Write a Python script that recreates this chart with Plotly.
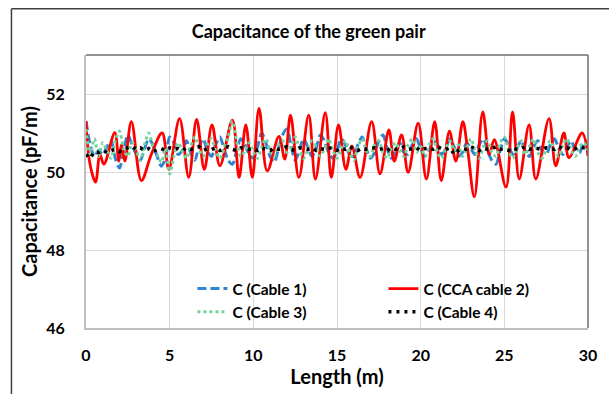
import plotly.graph_objects as go

# Sample positions along the cable (m) for the measured series
lengths = [round(i * 0.25, 2) for i in range(121)]

cable1 = [
    51.30, 50.70, 50.40, 50.55, 50.45, 50.65, 50.80, 50.35, 50.10, 50.55,
    50.95, 50.70, 50.45, 50.30, 50.60, 50.85, 50.70, 50.40, 50.15, 50.35,
    50.90, 50.75, 50.45, 50.55, 50.80, 50.50, 50.30, 50.65, 50.85, 50.55,
    50.40, 50.70, 50.90, 50.60, 50.30, 50.20, 50.55, 50.85, 50.70, 50.45,
    50.35, 50.65, 51.00, 50.75, 50.40, 50.25, 50.60, 50.95, 51.10, 50.70,
    50.30, 50.55, 50.85, 50.65, 50.40, 50.60, 50.95, 50.80, 50.50, 50.35,
    50.55, 50.85, 50.70, 50.45, 50.40, 50.70, 50.90, 50.60, 50.35, 50.50,
    50.80, 50.95, 50.60, 50.35, 50.55, 50.75, 50.50, 50.45, 50.70, 50.85,
    50.60, 50.40, 50.55, 50.80, 50.70, 50.45, 50.60, 50.85, 50.65, 50.40,
    50.50, 50.75, 50.60, 50.45, 50.70, 50.85, 50.55, 50.30, 50.20, 50.55,
    50.85, 50.70, 50.45, 50.60, 50.80, 50.55, 50.40, 50.65, 50.80, 50.55,
    50.45, 50.70, 50.85, 50.60, 50.45, 50.65, 50.80, 50.55, 50.50, 50.75,
    50.65,
]

cable3 = [
    51.10, 50.45, 50.85, 50.40, 50.75, 50.55, 50.35, 50.80, 51.05, 50.60,
    50.40, 50.75, 50.55, 50.30, 50.70, 51.00, 50.65, 50.45, 50.25, 50.60,
    49.95, 50.40, 50.75, 50.55, 50.35, 50.65, 50.90, 50.60, 50.40, 50.70,
    50.85, 50.55, 50.35, 50.60, 50.90, 51.30, 50.80, 50.40, 50.55, 50.75,
    50.50, 50.35, 50.65, 50.85, 50.55, 50.40, 50.70, 50.80, 50.50, 50.65,
    50.90, 50.60, 50.35, 50.55, 50.80, 50.65, 50.40, 50.60, 50.85, 50.55,
    50.35, 50.60, 50.80, 50.50, 50.30, 50.65, 50.85, 50.55, 50.40, 50.70,
    50.80, 50.50, 50.35, 50.60, 50.75, 50.55, 50.40, 50.70, 50.85, 50.50,
    50.65, 50.40, 50.70, 50.85, 50.50, 50.35, 50.60, 50.80, 50.55, 50.70,
    50.40, 50.60, 50.85, 50.55, 50.35, 50.65, 50.80, 50.50, 50.40, 50.75,
    50.90, 50.55, 50.35, 50.60, 50.80, 50.45, 50.65, 50.85, 50.50, 50.35,
    50.60, 50.80, 50.55, 50.40, 50.70, 50.85, 50.55, 50.40, 50.65, 50.75,
    50.55,
]

cable4 = [
    50.45, 50.35, 50.52, 50.50, 50.55, 50.50, 50.55, 50.58, 50.52, 50.60,
    50.62, 50.65, 50.58, 50.62, 50.55, 50.60, 50.52, 50.58, 50.60, 50.55,
    50.62, 50.58, 50.60, 50.55, 50.62, 50.58, 50.60, 50.65, 50.55, 50.60,
    50.58, 50.62, 50.55, 50.60, 50.65, 50.58, 50.55, 50.62, 50.60, 50.58,
    50.60, 50.55, 50.62, 50.58, 50.55, 50.62, 50.58, 50.60, 50.65, 50.58,
    50.55, 50.62, 50.60, 50.58, 50.62, 50.55, 50.60, 50.58, 50.62, 50.60,
    50.55, 50.62, 50.58, 50.65, 50.60, 50.55, 50.62, 50.58, 50.60, 50.62,
    50.58, 50.60, 50.55, 50.62, 50.58, 50.60, 50.65, 50.58, 50.60, 50.62,
    50.55, 50.60, 50.62, 50.58, 50.65, 50.60, 50.58, 50.62, 50.45, 50.55,
    50.60, 50.58, 50.65, 50.60, 50.55, 50.62, 50.58, 50.60, 50.65, 50.58,
    50.60, 50.55, 50.62, 50.58, 50.60, 50.65, 50.58, 50.62, 50.60, 50.58,
    50.62, 50.60, 50.58, 50.65, 50.60, 50.62, 50.58, 50.60, 50.65, 50.62,
    50.62,
]

# CCA cable 2: turning points of the smoothed curve
cca_lengths = [
    0.0, 0.24, 0.57, 0.83, 1.07, 1.72, 1.96, 2.12, 2.32, 2.71,
    3.31, 3.9, 4.55, 4.95, 5.59, 6.14, 6.61, 7.07, 7.53, 8.0,
    8.75, 9.15, 9.55, 9.94, 10.34, 10.83, 11.53, 11.88, 12.22, 12.72,
    13.31, 13.71, 14.3, 14.66, 15.09, 15.53, 15.89, 16.38, 17.07, 17.57,
    18.1, 18.42, 18.86, 19.25, 19.85, 20.34, 20.84, 21.23, 21.72, 22.1,
    22.52, 22.8, 23.21, 23.71, 24.1, 24.4, 25.1, 25.49, 25.89, 26.48,
    26.88, 27.67, 28.07, 28.56, 28.86, 29.65, 30.0,
]
cca_cable2 = [
    51.30, 50.20, 49.74, 50.45, 50.20, 51.01, 50.28, 50.70, 50.28, 51.29,
    49.78, 50.45, 51.00, 50.07, 51.37, 49.86, 51.35, 50.07, 51.21, 50.16,
    51.33, 49.86, 51.21, 49.86, 51.63, 50.03, 50.91, 50.33, 51.46, 49.86,
    51.46, 49.82, 51.52, 49.86, 51.21, 50.07, 50.66, 49.86, 51.29, 49.95,
    51.08, 50.28, 50.95, 49.99, 51.25, 49.82, 51.29, 49.78, 51.05, 50.28,
    51.29, 50.60, 49.36, 51.54, 50.45, 50.83, 49.61, 51.54, 49.82, 51.21,
    49.82, 51.37, 50.16, 51.00, 50.37, 51.00, 50.41,
]

x_ticks = [0, 5, 10, 15, 20, 25, 30]
y_ticks = [46, 48, 50, 52]

FONT = "Lato"

fig = go.Figure()
fig.add_trace(go.Scatter(
    x=lengths, y=cable1, mode="lines", name="C (Cable 1)",
    line=dict(color="#2F86CF", width=3, dash="9px,4px", shape="spline", smoothing=0.8),
))
fig.add_trace(go.Scatter(
    x=cca_lengths, y=cca_cable2, mode="lines", name="C (CCA cable 2)",
    line=dict(color="#FF0000", width=2.8, shape="spline", smoothing=1.0),
))
fig.add_trace(go.Scatter(
    x=lengths, y=cable3, mode="lines", name="C (Cable 3)",
    line=dict(color="#74D39C", width=3, dash="3px,3px", shape="spline", smoothing=0.8),
))
fig.add_trace(go.Scatter(
    x=lengths, y=cable4, mode="lines", name="C (Cable 4)",
    line=dict(color="#000000", width=3.5, dash="3px,5px"),
))

# plot-area frame: darker top and right edges
fig.add_shape(type="line", xref="paper", yref="paper", x0=0, x1=1, y0=1, y1=1,
              line=dict(color="#6E6E6E", width=1.5))
fig.add_shape(type="line", xref="paper", yref="paper", x0=1, x1=1, y0=0, y1=1,
              line=dict(color="#6E6E6E", width=1.5))
# outer chart frame (left and top edges)
fig.add_shape(type="line", xref="paper", yref="paper", x0=-0.1485, x1=-0.1485,
              y0=-0.3, y1=1.1697, line=dict(color="#404040", width=1.5))
fig.add_shape(type="line", xref="paper", yref="paper", x0=-0.1485, x1=1.1,
              y0=1.1697, y1=1.1697, line=dict(color="#404040", width=1.5))

fig.update_layout(
    width=609, height=394,
    margin=dict(l=86, r=18, t=55, b=62),
    paper_bgcolor="white", plot_bgcolor="white",
    font=dict(family=FONT, color="#000000"),
    title=dict(text="Capacitance of the green pair", x=0.4436, xref="paper",
               y=0.92, yref="container", xanchor="center", yanchor="middle",
               font=dict(family=FONT, size=18, weight="bold", color="#000000")),
    showlegend=True,
    legend=dict(orientation="h", x=0.212, y=0.205, xanchor="left", yanchor="top",
                entrywidth=146, entrywidthmode="pixels",
                font=dict(family=FONT, size=15.5, weight="bold", color="#000000"),
                bgcolor="rgba(0,0,0,0)", tracegroupgap=0),
    xaxis=dict(range=[0, 30], tickvals=x_ticks, showgrid=True, gridcolor="#D9D9D9",
               gridwidth=1, showline=True, linecolor="#BFBFBF", linewidth=2,
               zeroline=False, ticks="", ticklabelstandoff=12,
               tickfont=dict(family=FONT, size=16, weight="bold", color="#000000"),
               title=dict(text="Length (m)", standoff=4,
                          font=dict(family=FONT, size=20, weight="bold", color="#000000"))),
    yaxis=dict(range=[46, 53], tickvals=y_ticks, showgrid=True, gridcolor="#D9D9D9",
               gridwidth=1, showline=True, linecolor="#BFBFBF", linewidth=2,
               zeroline=False, ticks="", ticklabelstandoff=16,
               tickfont=dict(family=FONT, size=16, weight="bold", color="#000000"),
               title=dict(text="Capacitance (pF/m)", standoff=3,
                          font=dict(family=FONT, size=20, weight="bold", color="#000000"))),
)

fig.write_html("out.html")
